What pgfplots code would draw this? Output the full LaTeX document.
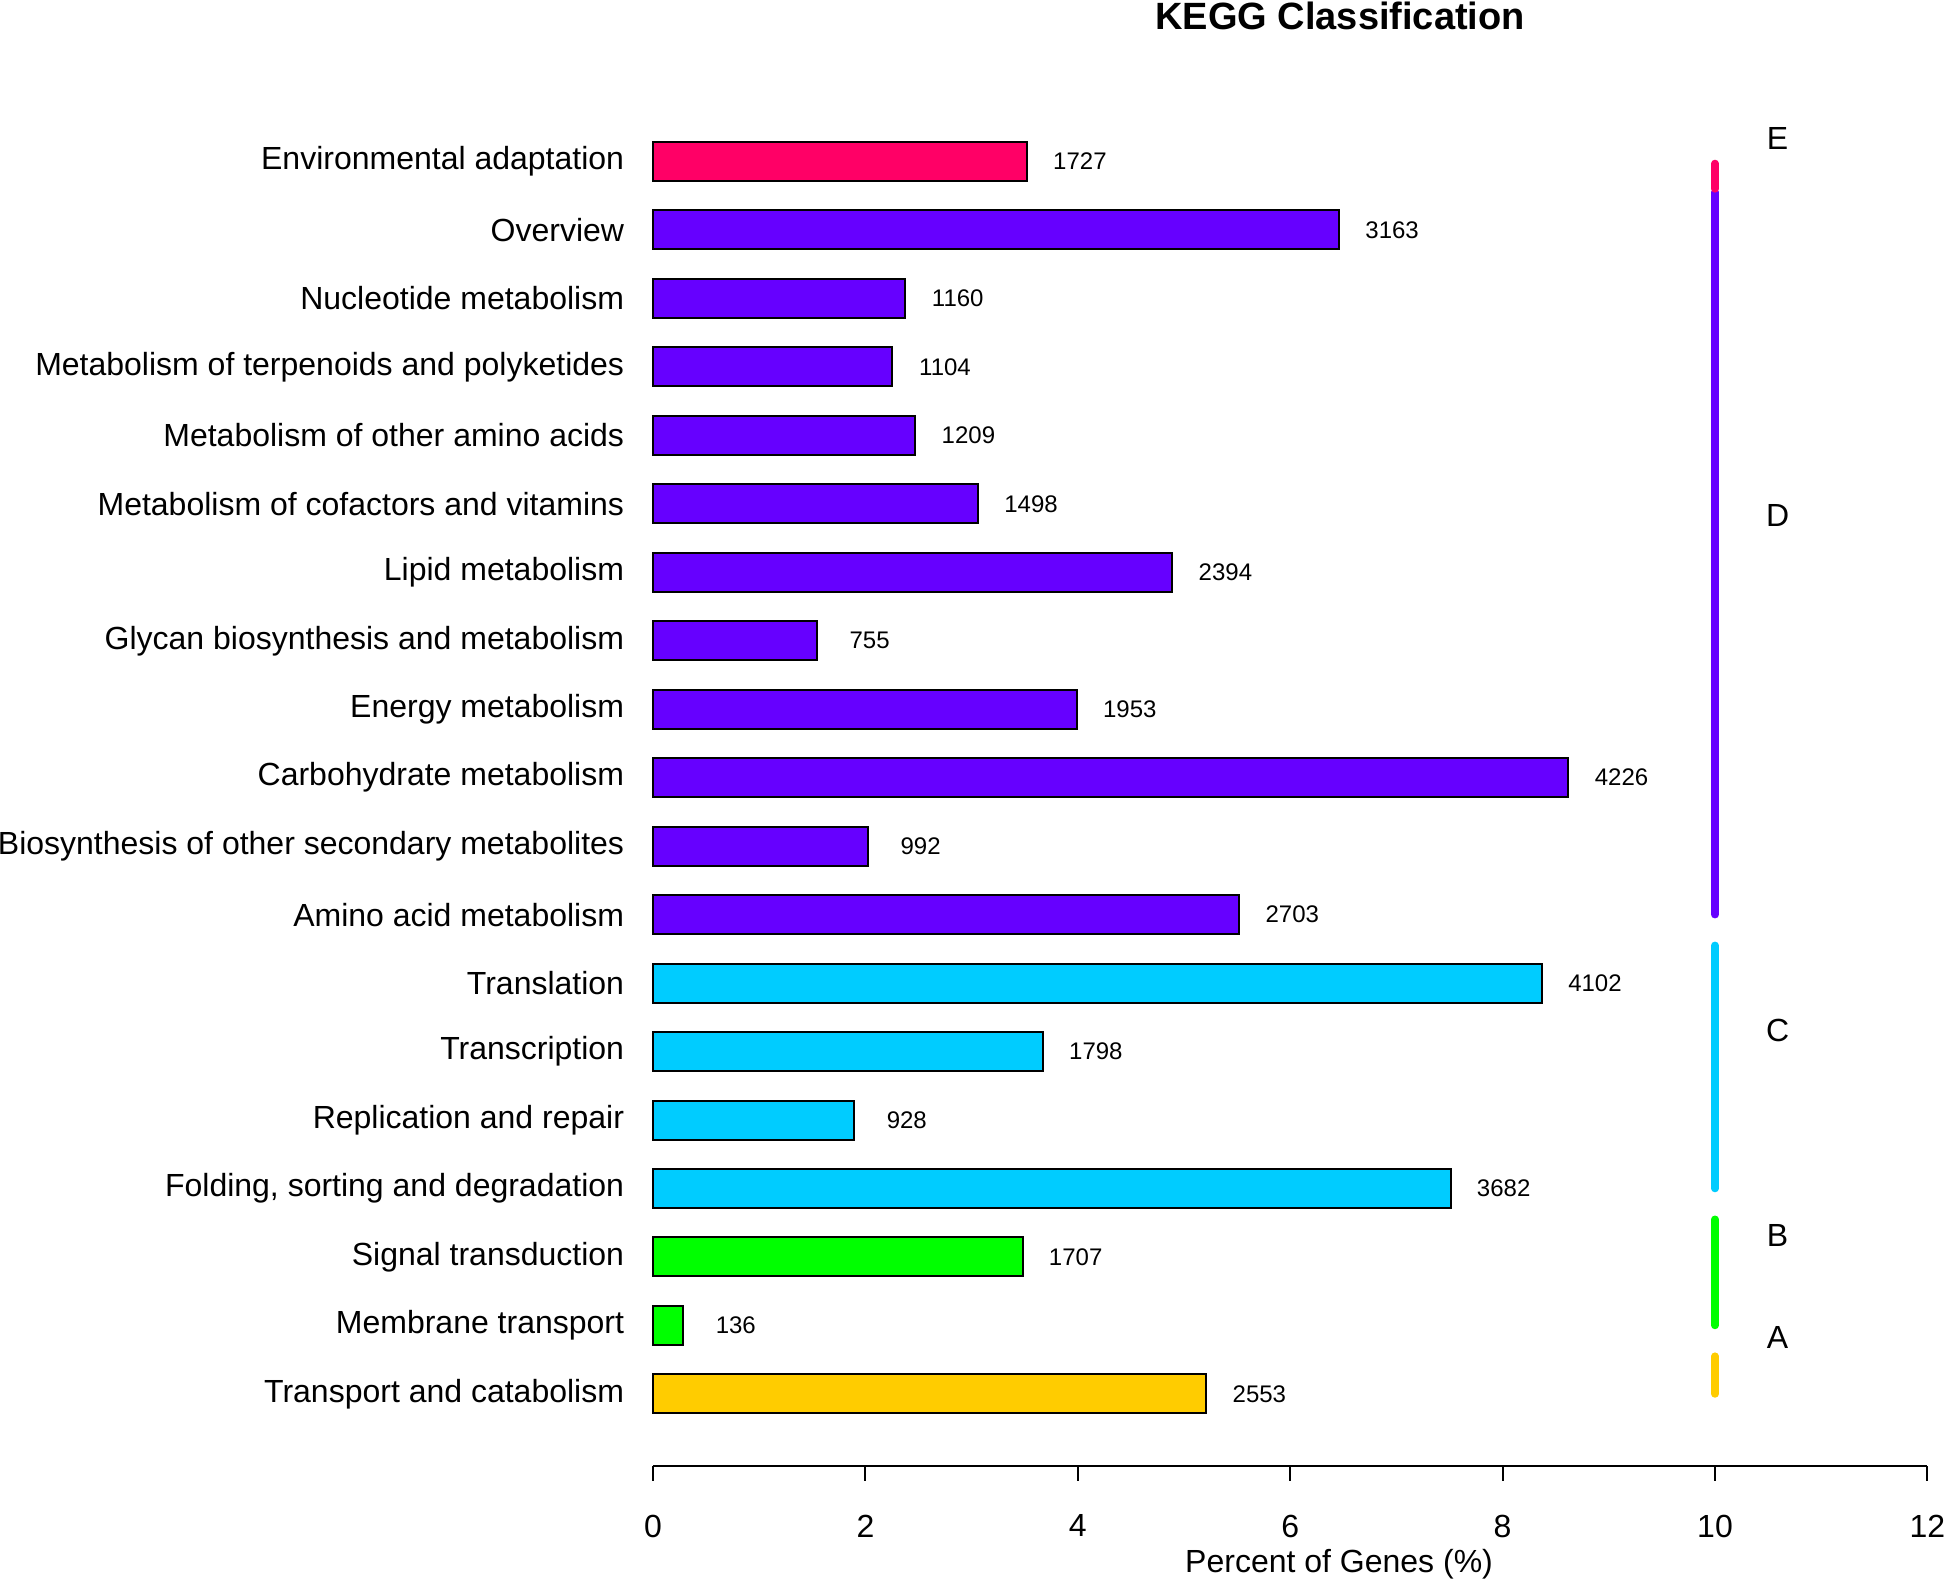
\documentclass[border=0pt]{standalone}
\usepackage{pgfplots}
\pgfplotsset{compat=1.18}
\usepackage{pgfplotstable}
\usepackage{fontspec}
\setmainfont{Liberation Sans}

\definecolor{keggA}{HTML}{FFCC00}
\definecolor{keggB}{HTML}{00FF00}
\definecolor{keggC}{HTML}{00CCFF}
\definecolor{keggD}{HTML}{6600FF}
\definecolor{keggE}{HTML}{FF0066}

% y = row from bottom, pct = percent of genes, count = gene number
\pgfplotstableread{
y pct count
1 5.21 2553
}\groupA
\pgfplotstableread{
y pct count
2 0.28 136
3 3.48 1707
}\groupB
\pgfplotstableread{
y pct count
4 7.51 3682
5 1.89 928
6 3.67 1798
7 8.37 4102
}\groupC
\pgfplotstableread{
y pct count
8 5.52 2703
9 2.02 992
10 8.62 4226
11 3.99 1953
12 1.54 755
13 4.89 2394
14 3.06 1498
15 2.47 1209
16 2.25 1104
17 2.37 1160
18 6.46 3163
}\groupD
\pgfplotstableread{
y pct count
19 3.52 1727
}\groupE

\pgfplotsset{
  countlabel/.style={draw=none, mark=none, nodes near coords,
    point meta=explicit symbolic,
    nodes near coords style={font=\fontsize{6}{7}\selectfont, anchor=center}},
  groupline/.style={line width=1.9pt, line cap=round},
}

\begin{document}
\begin{tikzpicture}
\begin{axis}[
  scale only axis,
  width=318.6pt, height=343.2pt,
  xmin=0, xmax=12, ymin=-0.05, ymax=20,
  axis x line=bottom, axis y line=left,
  axis line style={-, line width=0.5pt},
  y axis line style={draw=none},
  xtick={0,2,4,6,8,10,12},
  ytick={1,...,19},
  yticklabels={Transport and catabolism,
               Membrane transport,
               Signal transduction,
               {Folding, sorting and degradation},
               Replication and repair,
               Transcription,
               Translation,
               Amino acid metabolism,
               Biosynthesis of other secondary metabolites,
               Carbohydrate metabolism,
               Energy metabolism,
               Glycan biosynthesis and metabolism,
               Lipid metabolism,
               Metabolism of cofactors and vitamins,
               Metabolism of other amino acids,
               Metabolism of terpenoids and polyketides,
               Nucleotide metabolism,
               Overview,
               Environmental adaptation},
  tick align=outside,
  major tick length=3.7pt,
  ytick style={draw=none},
  xtick style={black, line width=0.5pt},
  ticklabel style={font=\fontsize{8}{9.6}\selectfont},
  xticklabel style={yshift=-5pt},
  yticklabel style={xshift=0pt},
  /pgf/number format/assume math mode=true,
  clip=false,
  bar width=0.57,
]

\addplot[xbar, fill=keggA, draw=black, line width=0.5pt] table[x=pct, y=y] {\groupA};
\addplot[xbar, fill=keggB, draw=black, line width=0.5pt] table[x=pct, y=y] {\groupB};
\addplot[xbar, fill=keggC, draw=black, line width=0.5pt] table[x=pct, y=y] {\groupC};
\addplot[xbar, fill=keggD, draw=black, line width=0.5pt] table[x=pct, y=y] {\groupD};
\addplot[xbar, fill=keggE, draw=black, line width=0.5pt] table[x=pct, y=y] {\groupE};

% counts next to the bars
\addplot[countlabel] table[x expr=\thisrow{pct}+0.5, y=y, meta=count] {\groupA};
\addplot[countlabel] table[x expr=\thisrow{pct}+0.5, y=y, meta=count] {\groupB};
\addplot[countlabel] table[x expr=\thisrow{pct}+0.5, y=y, meta=count] {\groupC};
\addplot[countlabel] table[x expr=\thisrow{pct}+0.5, y=y, meta=count] {\groupD};
\addplot[countlabel] table[x expr=\thisrow{pct}+0.5, y=y, meta=count] {\groupE};

% group bars on the right
\addplot[groupline, keggA] coordinates {(10,1) (10,1.55)};
\addplot[groupline, keggB] coordinates {(10,2) (10,3.55)};
\addplot[groupline, keggC] coordinates {(10,4) (10,7.55)};
\addplot[groupline, keggD] coordinates {(10,8) (10,18.55)};
\addplot[groupline, keggE] coordinates {(10,18.6) (10,18.97)};

\node[font=\fontsize{8}{9.6}\selectfont] at (axis cs:10.59,19.33) {E};
\node[font=\fontsize{8}{9.6}\selectfont] at (axis cs:10.59,13.83) {D};
\node[font=\fontsize{8}{9.6}\selectfont] at (axis cs:10.59,6.31) {C};
\node[font=\fontsize{8}{9.6}\selectfont] at (axis cs:10.59,3.32) {B};
\node[font=\fontsize{8}{9.6}\selectfont] at (axis cs:10.59,1.82) {A};

\node[font=\bfseries\fontsize{9.5}{11}\selectfont] at (axis cs:6.47,21.12) {KEGG Classification};
\node[font=\fontsize{8}{9.6}\selectfont, yshift=-24.6pt] at (axis cs:6.46,-0.05) {Percent of Genes (\%)};

\coordinate (o) at (axis cs:0,-0.05);
\end{axis}
\pgfresetboundingbox
\useasboundingbox (o) ++(-163.25pt,-28.8pt) rectangle ++(486.5pt,395.25pt);
\end{tikzpicture}
\end{document}
